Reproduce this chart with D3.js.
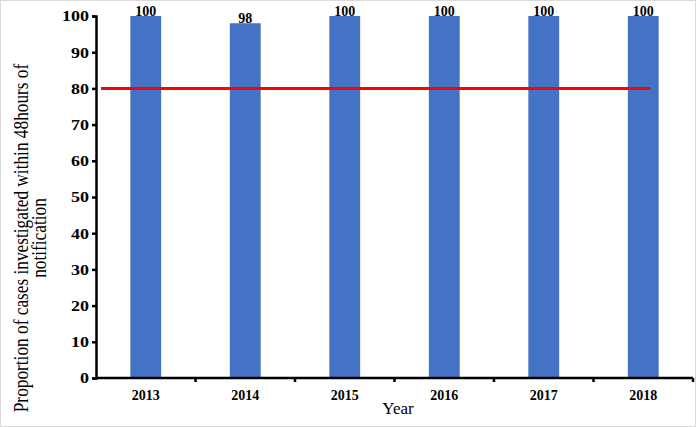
<!DOCTYPE html>
<html>
<head>
<meta charset="utf-8">
<script src="https://cdn.jsdelivr.net/npm/d3@7"></script>
<style>
  body { margin: 0; background: #fff; }
  svg { display: block; }
  text { font-family: "Liberation Serif", "Times New Roman", serif; }
</style>
</head>
<body>
<div id="chart"></div>
<script>
const years = ['2013', '2014', '2015', '2016', '2017', '2018'];
const proportions = [100, 98, 100, 100, 100, 100];
const target = 80;
const yTicks = [0, 10, 20, 30, 40, 50, 60, 70, 80, 90, 100];

const width = 696, height = 427;
const margin = { top: 16, right: 3, bottom: 49, left: 96 };
const cWidth = width - margin.left - margin.right;
const cHeight = height - margin.top - margin.bottom;

const svg = d3.select('#chart').append('svg')
  .attr('width', width)
  .attr('height', height);

// faint frame round the picture
svg.append('rect')
  .attr('x', 0.5).attr('y', 0.5)
  .attr('width', width - 1).attr('height', height - 1)
  .attr('fill', 'none').attr('stroke', '#d9d9d9');

const g = svg.append('g').attr('transform', `translate(${margin.left},${margin.top})`);

const x = d3.scaleBand().domain(years).range([0, cWidth]).paddingInner(0.69).paddingOuter(0.345);
const xOuter = d3.scaleBand().domain(years).range([0, cWidth]);
const y = d3.scaleLinear().domain([0, 100]).range([cHeight, 0]);

// bars
g.selectAll('rect.bar').data(proportions).enter().append('rect')
  .attr('class', 'bar')
  .attr('x', (d, i) => x(years[i]))
  .attr('y', d => y(d))
  .attr('width', x.bandwidth())
  .attr('height', d => cHeight - y(d))
  .attr('fill', '#4472C4');

// value labels
g.selectAll('text.val').data(proportions).enter().append('text')
  .attr('class', 'val')
  .attr('x', (d, i) => x(years[i]) + x.bandwidth() / 2)
  .attr('y', d => y(d))
  .attr('text-anchor', 'middle')
  .attr('font-size', 14)
  .attr('font-weight', 'bold')
  .text(d => d);

// target line
g.append('line')
  .attr('x1', 5)
  .attr('x2', x(years[5]) + x.bandwidth() / 2 + 7)
  .attr('y1', y(target))
  .attr('y2', y(target))
  .attr('stroke', '#FF0000')
  .attr('stroke-width', 3);

// y axis
const yAxis = g.append('g')
  .call(d3.axisLeft(y).tickValues(yTicks).tickSize(4).tickPadding(5));
yAxis.select('.domain').attr('stroke', '#000').attr('stroke-width', 2.5);
yAxis.selectAll('.tick line').attr('stroke', '#000').attr('stroke-width', 2.5);
// the source picture is a bit stretched sideways
yAxis.selectAll('.tick text')
  .attr('font-family', '"Liberation Serif", serif')
  .attr('font-size', 15).attr('font-weight', 'bold').attr('fill', '#000')
  .attr('x', -7 / 1.2)
  .attr('transform', 'scale(1.2,1)');

// x axis: ticks sit between categories
const xAxisG = g.append('g').attr('transform', `translate(0,${cHeight})`);
xAxisG.append('line')
  .attr('x1', 0).attr('x2', cWidth)
  .attr('stroke', '#000').attr('stroke-width', 2.5);
xAxisG.selectAll('line.tk').data(years.slice(1).concat(['end'])).enter().append('line')
  .attr('class', 'tk')
  .attr('x1', (d, i) => i < 5 ? xOuter(d) : cWidth)
  .attr('x2', (d, i) => i < 5 ? xOuter(d) : cWidth)
  .attr('y1', 0).attr('y2', 4)
  .attr('stroke', '#000').attr('stroke-width', 2.5);
xAxisG.selectAll('text.yr').data(years).enter().append('text')
  .attr('class', 'yr')
  .attr('x', d => x(d) + x.bandwidth() / 2)
  .attr('y', 22)
  .attr('text-anchor', 'middle')
  .attr('font-size', 14)
  .attr('font-weight', 'bold')
  .text(d => d);

// axis titles
svg.append('text')
  .attr('x', 398)
  .attr('y', 414)
  .attr('text-anchor', 'middle')
  .attr('font-size', 17)
  .text('Year');

const yTitle = svg.append('text')
  .attr('transform', `translate(28,238) rotate(-90) scale(1,1.15)`)
  .attr('text-anchor', 'middle')
  .attr('font-size', 17.3);
yTitle.append('tspan').attr('x', 0).attr('dy', 0).text('Proportion of cases investigated  within 48hours of');
yTitle.append('tspan').attr('x', 0).attr('dy', 16).text('notification');
</script>
</body>
</html>
